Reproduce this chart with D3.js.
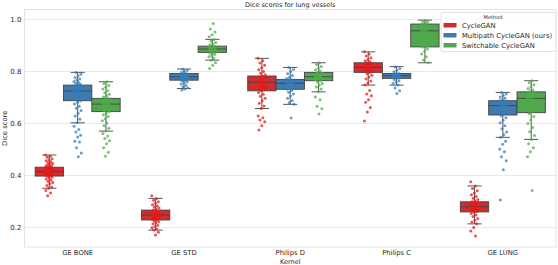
<!DOCTYPE html>
<html>
<head>
<meta charset="utf-8">
<script src="https://cdn.jsdelivr.net/npm/d3@7"></script>
<style>
  body { margin: 0; background: #fff; }
  svg text { font-family: "DejaVu Sans", sans-serif; fill: #262626; }
</style>
</head>
<body>
<div id="chart"></div>
<script>
// Categories
const kernels = ["GE BONE", "GE STD", "Philips D", "Philips C", "GE LUNG"];
const methods = ["CycleGAN", "Multipath CycleGAN (ours)", "Switchable CycleGAN"];
const yTicks = [0.2, 0.4, 0.6, 0.8, 1.0];

// Box stats per method (one value per kernel)
const cycleLo  = [0.349, 0.188, 0.656, 0.746, 0.212];
const cycleQ1  = [0.396, 0.227, 0.724, 0.795, 0.258];
const cycleMed = [0.413, 0.246, 0.757, 0.814, 0.278];
const cycleQ3  = [0.430, 0.265, 0.781, 0.832, 0.297];
const cycleHi  = [0.477, 0.310, 0.849, 0.874, 0.358];

const multiLo  = [0.601, 0.733, 0.672, 0.746, 0.545];
const multiQ1  = [0.686, 0.765, 0.730, 0.772, 0.631];
const multiMed = [0.723, 0.778, 0.753, 0.782, 0.667];
const multiQ3  = [0.746, 0.791, 0.768, 0.791, 0.686];
const multiHi  = [0.795, 0.808, 0.814, 0.817, 0.718];

const switchLo  = [0.569, 0.842, 0.720, 0.832, 0.537];
const switchQ1  = [0.644, 0.872, 0.763, 0.893, 0.640];
const switchMed = [0.673, 0.885, 0.778, 0.955, 0.695];
const switchQ3  = [0.695, 0.896, 0.795, 0.981, 0.720];
const switchHi  = [0.759, 0.922, 0.832, 0.996, 0.763];

// Individual scores (strip points), one list per kernel
const cyclePoints = [
  [0.477,0.472,0.468,0.463,0.458,0.455,0.451,0.447,0.444,0.441,0.438,0.436,0.434,0.432,0.430,0.428,0.426,0.425,0.423,0.421,0.420,0.418,0.417,0.415,0.414,0.413,0.412,0.411,0.409,0.408,0.406,0.405,0.403,0.401,0.399,0.397,0.395,0.392,0.389,0.385,0.381,0.376,0.371,0.366,0.360,0.354,0.349,0.340,0.331,0.320],
  [0.320,0.310,0.303,0.297,0.291,0.286,0.281,0.277,0.273,0.269,0.265,0.262,0.259,0.256,0.253,0.251,0.249,0.247,0.246,0.244,0.242,0.240,0.238,0.236,0.234,0.232,0.230,0.227,0.224,0.220,0.216,0.212,0.207,0.202,0.197,0.192,0.188,0.180,0.169],
  [0.849,0.840,0.831,0.822,0.813,0.805,0.798,0.792,0.786,0.781,0.777,0.773,0.769,0.765,0.762,0.759,0.757,0.754,0.751,0.748,0.744,0.740,0.736,0.732,0.728,0.724,0.718,0.711,0.703,0.695,0.686,0.676,0.666,0.656,0.627,0.620,0.612,0.605,0.590,0.573],
  [0.874,0.866,0.858,0.851,0.845,0.840,0.836,0.832,0.829,0.826,0.823,0.820,0.817,0.814,0.812,0.809,0.806,0.803,0.800,0.795,0.790,0.784,0.777,0.770,0.762,0.754,0.746,0.725,0.712,0.705,0.690,0.680,0.660,0.643,0.608],
  [0.374,0.358,0.348,0.339,0.331,0.324,0.317,0.311,0.306,0.301,0.297,0.294,0.291,0.288,0.285,0.282,0.280,0.278,0.276,0.274,0.272,0.269,0.266,0.263,0.260,0.257,0.252,0.246,0.240,0.233,0.226,0.219,0.212,0.198,0.185,0.165]
];
const multiPoints = [
  [0.795,0.788,0.781,0.775,0.770,0.765,0.760,0.756,0.752,0.749,0.746,0.743,0.740,0.737,0.734,0.731,0.729,0.727,0.725,0.723,0.721,0.719,0.716,0.713,0.710,0.707,0.703,0.699,0.695,0.691,0.686,0.680,0.673,0.665,0.657,0.648,0.638,0.627,0.615,0.601,0.588,0.575,0.566,0.553,0.546,0.530,0.527,0.505,0.485,0.470],
  [0.808,0.803,0.799,0.795,0.791,0.789,0.787,0.785,0.783,0.781,0.780,0.779,0.778,0.777,0.776,0.775,0.773,0.771,0.769,0.767,0.765,0.762,0.758,0.754,0.750,0.745,0.740,0.735,0.731,0.727],
  [0.814,0.806,0.798,0.790,0.783,0.776,0.771,0.768,0.765,0.762,0.759,0.756,0.753,0.750,0.747,0.744,0.741,0.738,0.734,0.730,0.725,0.719,0.712,0.704,0.695,0.686,0.678,0.672,0.619],
  [0.817,0.810,0.803,0.797,0.791,0.789,0.787,0.785,0.783,0.782,0.781,0.780,0.778,0.776,0.774,0.772,0.768,0.763,0.758,0.752,0.746,0.735,0.724,0.714],
  [0.718,0.712,0.706,0.700,0.695,0.690,0.686,0.683,0.680,0.677,0.674,0.671,0.668,0.666,0.663,0.660,0.656,0.651,0.646,0.640,0.634,0.628,0.620,0.611,0.601,0.590,0.578,0.566,0.555,0.545,0.530,0.518,0.500,0.490,0.470,0.455,0.420,0.304]
];
const switchPoints = [
  [0.759,0.752,0.745,0.738,0.731,0.724,0.717,0.711,0.705,0.700,0.695,0.692,0.689,0.686,0.683,0.680,0.677,0.675,0.673,0.671,0.668,0.665,0.662,0.659,0.656,0.653,0.650,0.647,0.644,0.638,0.632,0.625,0.617,0.609,0.600,0.590,0.580,0.569,0.560,0.550,0.541,0.532,0.520,0.505,0.488,0.472],
  [0.983,0.962,0.950,0.940,0.932,0.922,0.916,0.910,0.905,0.900,0.896,0.893,0.891,0.889,0.887,0.885,0.883,0.881,0.879,0.877,0.874,0.872,0.869,0.865,0.860,0.855,0.849,0.842,0.832,0.822,0.810],
  [0.832,0.825,0.818,0.811,0.805,0.800,0.795,0.792,0.789,0.786,0.783,0.780,0.778,0.776,0.774,0.772,0.770,0.767,0.763,0.758,0.752,0.746,0.739,0.731,0.720,0.700,0.690,0.665,0.655,0.635],
  [0.996,0.992,0.988,0.984,0.981,0.977,0.973,0.969,0.965,0.961,0.958,0.955,0.951,0.947,0.942,0.937,0.931,0.925,0.918,0.911,0.904,0.897,0.893,0.885,0.876,0.866,0.855,0.843,0.832],
  [0.763,0.755,0.747,0.740,0.733,0.727,0.721,0.716,0.711,0.707,0.703,0.699,0.695,0.691,0.687,0.682,0.677,0.671,0.665,0.658,0.651,0.644,0.636,0.625,0.612,0.598,0.583,0.567,0.552,0.537,0.520,0.505,0.490,0.470,0.340]
];

// Colours (Set1 for points, slightly desaturated for boxes)
const pointColors = ["#e41a1c", "#377eb8", "#4daf4a"];
const boxColors = ["#d42a2c", "#3f7bb0", "#50a84e"];

// Build a flat table from the arrays
const stats = [
  [cycleLo, cycleQ1, cycleMed, cycleQ3, cycleHi, cyclePoints],
  [multiLo, multiQ1, multiMed, multiQ3, multiHi, multiPoints],
  [switchLo, switchQ1, switchMed, switchQ3, switchHi, switchPoints]
];
const boxes = [];
methods.forEach((m, mi) => {
  kernels.forEach((k, ki) => {
    const s = stats[mi];
    boxes.push({method: m, mi: mi, kernel: k, lo: s[0][ki], q1: s[1][ki], med: s[2][ki], q3: s[3][ki], hi: s[4][ki], pts: s[5][ki]});
  });
});

const width = 558, height = 265;
const margin = {top: 9.5, right: 2, bottom: 18, left: 24.5};

const svg = d3.select("#chart").append("svg")
  .attr("width", width)
  .attr("height", height);

const x = d3.scaleBand()
  .domain(kernels)
  .range([margin.left, width - margin.right])
  .padding(0);

const xInner = d3.scaleBand()
  .domain(methods)
  .range([-0.4 * x.bandwidth(), 0.4 * x.bandwidth()])
  .padding(0);

const y = d3.scaleLinear()
  .domain([0.123, 1.037])
  .range([height - margin.bottom, margin.top]);

// grid
svg.append("g")
  .selectAll("line")
  .data(yTicks)
  .enter()
  .append("line")
  .attr("x1", margin.left)
  .attr("x2", width - margin.right)
  .attr("y1", d => Math.round(y(d)) + 0.5)
  .attr("y2", d => Math.round(y(d)) + 0.5)
  .attr("stroke", "#e3e3e3")
  .attr("stroke-width", 0.8);

// frame
svg.append("rect")
  .attr("x", margin.left)
  .attr("y", margin.top)
  .attr("width", width - margin.right - margin.left)
  .attr("height", height - margin.bottom - margin.top)
  .attr("fill", "none")
  .attr("stroke", "#dcdcdc")
  .attr("stroke-width", 0.8);

// y axis labels
const yAxis = svg.append("g")
  .attr("transform", `translate(${margin.left},0)`)
  .call(d3.axisLeft(y).tickValues(yTicks).tickFormat(d3.format(".1f")).tickSize(0).tickPadding(3));
yAxis.select(".domain").remove();
yAxis.selectAll("text").style("font-size", "7px").attr("fill", "#262626");

// x axis labels
const xAxis = svg.append("g")
  .attr("transform", `translate(0,${height - margin.bottom})`)
  .call(d3.axisBottom(x).tickSize(0).tickPadding(3));
xAxis.select(".domain").remove();
xAxis.selectAll("text").style("font-size", "6.8px").attr("fill", "#262626");

svg.append("text")
  .attr("x", (margin.left + width - margin.right) / 2)
  .attr("y", 264)
  .attr("text-anchor", "middle")
  .style("font-size", "6.5px")
  .text("Kernel");

svg.append("text")
  .attr("transform", `translate(7,${(margin.top + height - margin.bottom) / 2}) rotate(-90)`)
  .attr("text-anchor", "middle")
  .style("font-size", "6.8px")
  .text("Dice score");

svg.append("text")
  .attr("x", (margin.left + width - margin.right) / 2)
  .attr("y", 7)
  .attr("text-anchor", "middle")
  .style("font-size", "6.5px")
  .text("Dice scores for lung vessels");

// boxes
const bw = xInner.bandwidth();
const edge = "#444";
const g = svg.append("g")
  .selectAll("g")
  .data(boxes)
  .enter()
  .append("g")
  .attr("transform", d => `translate(${x(d.kernel) + x.bandwidth() / 2 + xInner(d.method)},0)`);

g.append("line")
  .attr("x1", bw / 2).attr("x2", bw / 2)
  .attr("y1", d => y(d.hi)).attr("y2", d => y(d.q3))
  .attr("stroke", edge).attr("stroke-width", 0.9);
g.append("line")
  .attr("x1", bw / 2).attr("x2", bw / 2)
  .attr("y1", d => y(d.q1)).attr("y2", d => y(d.lo))
  .attr("stroke", edge).attr("stroke-width", 0.9);
g.append("line")
  .attr("x1", bw / 4).attr("x2", bw * 3 / 4)
  .attr("y1", d => y(d.hi)).attr("y2", d => y(d.hi))
  .attr("stroke", edge).attr("stroke-width", 0.9);
g.append("line")
  .attr("x1", bw / 4).attr("x2", bw * 3 / 4)
  .attr("y1", d => y(d.lo)).attr("y2", d => y(d.lo))
  .attr("stroke", edge).attr("stroke-width", 0.9);
g.append("rect")
  .attr("x", 0)
  .attr("width", bw)
  .attr("y", d => y(d.q3))
  .attr("height", d => y(d.q1) - y(d.q3))
  .attr("fill", d => boxColors[d.mi])
  .attr("stroke", edge)
  .attr("stroke-width", 0.9);
g.append("line")
  .attr("x1", 0).attr("x2", bw)
  .attr("y1", d => y(d.med)).attr("y2", d => y(d.med))
  .attr("stroke", edge).attr("stroke-width", 0.9);

// strip points (deterministic jitter)
g.selectAll("circle")
  .data(d => d.pts.map((v, i) => ({v: v, i: i, mi: d.mi})))
  .enter()
  .append("circle")
  .attr("cx", d => bw / 2 + (((d.i * 0.618034 + d.mi * 0.31) % 1) - 0.5) * bw * 0.27)
  .attr("cy", d => y(d.v))
  .attr("r", 1.5)
  .attr("fill", d => pointColors[d.mi])
  .attr("fill-opacity", 0.75);

// legend
const legend = svg.append("g").attr("transform", "translate(441,12.5)");
legend.append("rect")
  .attr("width", 115)
  .attr("height", 39)
  .attr("rx", 2)
  .attr("fill", "#fff")
  .attr("fill-opacity", 0.85)
  .attr("stroke", "#dcdcdc")
  .attr("stroke-width", 0.8);
legend.append("text")
  .attr("x", 52)
  .attr("y", 6)
  .attr("text-anchor", "middle")
  .style("font-size", "5px")
  .text("Method");
methods.forEach((m, i) => {
  legend.append("rect")
    .attr("x", 2.5)
    .attr("y", 10.5 + i * 10)
    .attr("width", 13)
    .attr("height", 4.5)
    .attr("fill", boxColors[i]);
  legend.append("text")
    .attr("x", 21)
    .attr("y", 15.5 + i * 10)
    .style("font-size", "6.8px")
    .text(m);
});
</script>
</body>
</html>
